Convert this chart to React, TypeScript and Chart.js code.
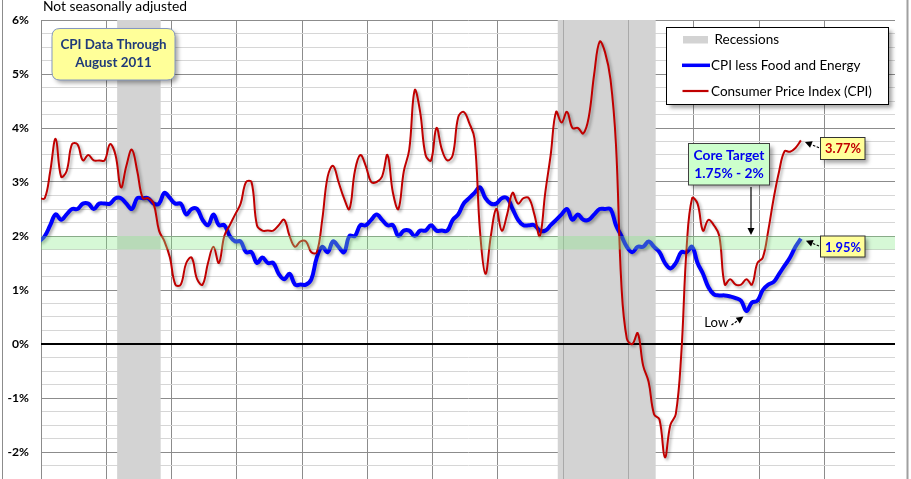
import React, { useEffect, useRef } from 'react';
import { Chart, registerables } from 'chart.js';

Chart.register(...registerables);

// ---------- DATA (monthly, year-over-year %, Dec 1999 .. Aug 2011) ----------
const firstMonth = '1999-12';
const coreCPI: number[] = [
  1.9,
  2.0, 2.2, 2.4, 2.3, 2.4, 2.5, 2.5, 2.6, 2.6, 2.5, 2.6, 2.6, // 2000
  2.6, 2.7, 2.7, 2.6, 2.5, 2.7, 2.7, 2.7, 2.6, 2.6, 2.8, 2.7, // 2001
  2.6, 2.6, 2.4, 2.5, 2.5, 2.3, 2.2, 2.4, 2.2, 2.2, 2.0, 1.9, // 2002
  1.9, 1.7, 1.7, 1.5, 1.6, 1.5, 1.5, 1.3, 1.2, 1.3, 1.1, 1.1, // 2003
  1.1, 1.2, 1.6, 1.8, 1.7, 1.9, 1.8, 1.7, 2.0, 2.0, 2.2, 2.2, // 2004
  2.3, 2.4, 2.3, 2.2, 2.2, 2.0, 2.1, 2.1, 2.0, 2.1, 2.1, 2.2, // 2005
  2.1, 2.1, 2.1, 2.3, 2.4, 2.6, 2.7, 2.8, 2.9, 2.7, 2.6, 2.6, // 2006
  2.7, 2.7, 2.5, 2.3, 2.2, 2.2, 2.2, 2.1, 2.1, 2.2, 2.3, 2.4, // 2007
  2.5, 2.3, 2.4, 2.3, 2.3, 2.4, 2.5, 2.5, 2.5, 2.2, 2.0, 1.8, // 2008
  1.7, 1.8, 1.8, 1.9, 1.8, 1.7, 1.5, 1.4, 1.5, 1.7, 1.7, 1.8, // 2009
  1.5, 1.3, 1.05, 0.92, 0.9, 0.9, 0.88, 0.85, 0.8, 0.61, 0.77, 0.8, // 2010
  1.0, 1.1, 1.15, 1.3, 1.45, 1.6, 1.8, 1.95, // 2011
];
const headlineCPI: number[] = [
  2.7,
  2.7, 3.2, 3.8, 3.1, 3.2, 3.7, 3.7, 3.4, 3.5, 3.4, 3.4, 3.4, // 2000
  3.7, 3.5, 2.9, 3.3, 3.6, 3.2, 2.7, 2.7, 2.6, 2.1, 1.9, 1.6, // 2001
  1.1, 1.1, 1.5, 1.6, 1.2, 1.1, 1.5, 1.8, 1.5, 2.0, 2.2, 2.4, // 2002
  2.6, 3.0, 3.0, 2.2, 2.1, 2.1, 2.1, 2.2, 2.3, 2.0, 1.8, 1.9, // 2003
  1.9, 1.7, 1.7, 2.3, 3.1, 3.3, 3.0, 2.7, 2.5, 3.2, 3.5, 3.3, // 2004
  3.0, 3.0, 3.1, 3.5, 2.8, 2.5, 3.2, 3.6, 4.7, 4.3, 3.5, 3.4, // 2005
  4.0, 3.6, 3.4, 3.5, 4.2, 4.3, 4.1, 3.8, 2.1, 1.3, 2.0, 2.5, // 2006
  2.1, 2.4, 2.8, 2.6, 2.7, 2.7, 2.4, 2.0, 2.8, 3.5, 4.3, 4.1, // 2007
  4.3, 4.0, 4.0, 3.9, 4.2, 5.0, 5.6, 5.4, 4.9, 3.7, 1.1, 0.1, // 2008
  0.0, 0.2, -0.4, -0.7, -1.3, -1.4, -2.1, -1.5, -1.3, -0.2, 1.8, 2.7, // 2009
  2.6, 2.1, 2.3, 2.2, 2.0, 1.1, 1.2, 1.1, 1.1, 1.2, 1.1, 1.5, // 2010
  1.6, 2.1, 2.7, 3.2, 3.57, 3.56, 3.63, 3.77, // 2011
];
const recessionStarts = ['2001-03', '2007-12'];
const recessionEnds = ['2001-11', '2009-06'];
const targetLow = 1.75;
const targetHigh = 2.0;
const yMin = -2.5;
const yMax = 6;
const yStep = 0.25;
const axisEnd = '2013-02';
const lastCPILabel = '3.77%';
const lastCoreLabel = '1.95%';
const seriesNames = ['CPI less Food and Energy', 'Consumer Price Index (CPI)'];

// ---------- helpers ----------
const BASE_YEAR = 2000;
const monthIndex = (s: string) => {
  const [y, m] = s.split('-').map(Number);
  return (y - BASE_YEAR) * 12 + (m - 1);
};
const PLOT_OFFSET = 0.7; // points are drawn late within their month, as in the source
const toPoints = (vals: number[]) =>
  vals.map((v, i) => ({ x: monthIndex(firstMonth) + i + PLOT_OFFSET, y: v }));

const FAMILY = 'Lato, "Open Sans", "DejaVu Sans", sans-serif';

function fitSize(text: string, weight: string, target: number) {
  const c = document.createElement('canvas').getContext('2d')!;
  c.font = `${weight} 20px ${FAMILY}`;
  const w = c.measureText(text).width;
  return (20 * target) / w;
}

function roundRect(ctx: CanvasRenderingContext2D, x: number, y: number, w: number, h: number, r: number) {
  ctx.beginPath();
  ctx.moveTo(x + r, y);
  ctx.lineTo(x + w - r, y);
  ctx.quadraticCurveTo(x + w, y, x + w, y + r);
  ctx.lineTo(x + w, y + h - r);
  ctx.quadraticCurveTo(x + w, y + h, x + w - r, y + h);
  ctx.lineTo(x + r, y + h);
  ctx.quadraticCurveTo(x, y + h, x, y + h - r);
  ctx.lineTo(x, y + r);
  ctx.quadraticCurveTo(x, y, x + r, y);
  ctx.closePath();
}

function box(ctx: CanvasRenderingContext2D, x: number, y: number, w: number, h: number, fill: string, stroke: string, r = 0) {
  ctx.save();
  ctx.shadowColor = 'rgba(0,0,0,0.35)';
  ctx.shadowBlur = 4;
  ctx.shadowOffsetX = 3;
  ctx.shadowOffsetY = 3;
  ctx.fillStyle = fill;
  if (r > 0) {
    roundRect(ctx, x, y, w, h, r);
    ctx.fill();
  } else {
    ctx.fillRect(x, y, w, h);
  }
  ctx.restore();
  ctx.save();
  ctx.strokeStyle = stroke;
  ctx.lineWidth = 1;
  if (r > 0) {
    roundRect(ctx, x, y, w, h, r);
    ctx.stroke();
  } else {
    ctx.strokeRect(x, y, w, h);
  }
  ctx.restore();
}

function arrow(ctx: CanvasRenderingContext2D, x1: number, y1: number, x2: number, y2: number, dashed: boolean) {
  const ang = Math.atan2(y2 - y1, x2 - x1);
  const head = 7;
  const hw = 3.5;
  const bx = x2 - head * Math.cos(ang);
  const by = y2 - head * Math.sin(ang);
  ctx.save();
  ctx.strokeStyle = '#000';
  ctx.fillStyle = '#000';
  ctx.lineWidth = 1.2;
  if (dashed) ctx.setLineDash([2.5, 1.5]);
  ctx.beginPath();
  ctx.moveTo(x1, y1);
  ctx.lineTo(bx, by);
  ctx.stroke();
  ctx.setLineDash([]);
  ctx.beginPath();
  ctx.moveTo(x2, y2);
  ctx.lineTo(bx + hw * Math.sin(ang), by - hw * Math.cos(ang));
  ctx.lineTo(bx - hw * Math.sin(ang), by + hw * Math.cos(ang));
  ctx.closePath();
  ctx.fill();
  ctx.restore();
}

export default function App() {
  const ref = useRef<HTMLCanvasElement>(null);

  useEffect(() => {
    const canvas = ref.current!;
    const sizes = {
      sub: fitSize('Not seasonally adjusted', 'normal', 144),
      legend: fitSize(seriesNames[1], 'normal', 161),
      dataBox: fitSize('CPI Data Through', 'bold', 106),
      core: fitSize('Core Target', 'bold', 71),
      val: fitSize(lastCPILabel, 'bold', 36),
      low: fitSize('Low', 'normal', 24),
      tick: fitSize('-2%', 'bold', 21.5),
    };
    const font = (w: string, s: number) => `${w} ${s.toFixed(2)}px ${FAMILY}`;

    const decor = {
      id: 'decor',
      beforeDatasetsDraw(chart: any) {
        const { ctx, chartArea: a, scales } = chart;
        const xs = scales.x;
        const ys = scales.y;
        ctx.save();
        // recession bands
        recessionStarts.forEach((s, i) => {
          const x1 = xs.getPixelForValue(monthIndex(s));
          const x2 = xs.getPixelForValue(monthIndex(recessionEnds[i]));
          ctx.fillStyle = '#d3d3d3';
          ctx.fillRect(x1, a.top, x2 - x1, a.bottom - a.top);
          // year gridlines remain faintly visible through the band
          ctx.strokeStyle = '#a9a9a9';
          ctx.lineWidth = 1;
          xs.ticks.forEach((t: any) => {
            if (t.value % 12 !== 0) return;
            const px = Math.round(xs.getPixelForValue(t.value)) + 0.5;
            if (px > x1 && px < x2) {
              ctx.beginPath();
              ctx.moveTo(px, a.top);
              ctx.lineTo(px, a.bottom);
              ctx.stroke();
            }
          });
        });
        // zero line
        const y0 = ys.getPixelForValue(0);
        ctx.strokeStyle = '#000';
        ctx.lineWidth = 2;
        ctx.beginPath();
        ctx.moveTo(a.left, y0);
        ctx.lineTo(a.right, y0);
        ctx.stroke();
        ctx.restore();
      },
      beforeDatasetDraw(chart: any) {
        const ctx = chart.ctx;
        ctx.save();
        ctx.shadowColor = 'rgba(0,0,0,0.32)';
        ctx.shadowBlur = 3;
        ctx.shadowOffsetX = 2;
        ctx.shadowOffsetY = 2;
      },
      afterDatasetDraw(chart: any) {
        chart.ctx.restore();
      },
      afterDatasetsDraw(chart: any) {
        const { ctx, chartArea: a, scales } = chart;
        const ys = scales.y;
        const yt = ys.getPixelForValue(targetHigh);
        const yb = ys.getPixelForValue(targetLow);
        ctx.save();
        ctx.fillStyle = 'rgba(130,235,130,0.33)';
        ctx.fillRect(a.left, yt, a.right - a.left, yb - yt);
        ctx.restore();
      },
      afterDraw(chart: any) {
        const { ctx, scales } = chart;
        const xs = scales.x;
        const ys = scales.y;
        ctx.save();

        // outer chart border
        ctx.strokeStyle = '#8c8c8c';
        ctx.lineWidth = 1;
        ctx.beginPath();
        ctx.moveTo(2.5, 0);
        ctx.lineTo(2.5, 479);
        ctx.stroke();
        ctx.strokeStyle = '#a0a0a0';
        ctx.lineWidth = 2;
        ctx.beginPath();
        ctx.moveTo(907.5, 0);
        ctx.lineTo(907.5, 479);
        ctx.stroke();

        // subtitle
        ctx.fillStyle = '#000';
        ctx.font = font('normal', sizes.sub);
        ctx.textAlign = 'left';
        ctx.textBaseline = 'alphabetic';
        ctx.fillText('Not seasonally adjusted', 43, 10.5);

        // "CPI Data Through" box
        box(ctx, 52, 28.5, 123, 51.5, '#ffff99', '#8497c0', 8);
        ctx.fillStyle = '#1f3a7a';
        ctx.font = font('bold', sizes.dataBox);
        ctx.textAlign = 'center';
        ctx.fillText('CPI Data Through', 113.5, 49);
        ctx.fillText('August 2011', 113.5, 66.7);

        // legend
        box(ctx, 666.5, 27.5, 222, 77, '#ffffff', '#000000');
        ctx.fillStyle = '#d3d3d3';
        ctx.fillRect(683, 36, 25, 7.5);
        ctx.strokeStyle = '#0000ff';
        ctx.lineWidth = 3.5;
        ctx.beginPath();
        ctx.moveTo(682, 65.3);
        ctx.lineTo(710, 65.3);
        ctx.stroke();
        ctx.strokeStyle = '#c00000';
        ctx.lineWidth = 2.2;
        ctx.beginPath();
        ctx.moveTo(682.5, 91);
        ctx.lineTo(708.5, 91);
        ctx.stroke();
        ctx.fillStyle = '#000';
        ctx.font = font('normal', sizes.legend);
        ctx.textAlign = 'left';
        ctx.fillText('Recessions', 714.5, 44.3);
        ctx.fillText(seriesNames[0], 711, 70);
        ctx.fillText(seriesNames[1], 711, 95.7);

        // Core target box + arrow
        box(ctx, 688.5, 143.5, 81, 41.5, '#ccffcc', '#404040');
        ctx.fillStyle = '#0000ee';
        ctx.font = font('bold', sizes.core);
        ctx.textAlign = 'center';
        ctx.fillText('Core Target', 729, 160);
        ctx.fillText('1.75% - 2%', 729, 178.3);
        arrow(ctx, 751, 187, 751, ys.getPixelForValue(targetHigh) - 1, false);

        // last value labels
        const lastX = xs.getPixelForValue(monthIndex(firstMonth) + headlineCPI.length - 1 + PLOT_OFFSET);
        const lastCPIy = ys.getPixelForValue(headlineCPI[headlineCPI.length - 1]);
        const lastCorey = ys.getPixelForValue(coreCPI[coreCPI.length - 1]);
        box(ctx, 820.5, 137.5, 44.5, 22, '#ffff99', '#333333');
        box(ctx, 820.5, 236, 44.5, 21, '#ffff99', '#333333');
        ctx.font = font('bold', sizes.val);
        ctx.fillStyle = '#c00000';
        ctx.fillText(lastCPILabel, 843, 153.3);
        ctx.fillStyle = '#0000ff';
        ctx.fillText(lastCoreLabel, 843, 252);
        arrow(ctx, 819, 147.7, lastX + 4, lastCPIy + 1.5, true);
        arrow(ctx, 819, 246, lastX + 5, lastCorey + 2, true);

        // Low label
        const lowIdx = coreCPI.indexOf(Math.min(...coreCPI));
        const lowX = xs.getPixelForValue(monthIndex(firstMonth) + lowIdx + PLOT_OFFSET);
        const lowY = ys.getPixelForValue(coreCPI[lowIdx]);
        ctx.font = font('normal', sizes.low);
        ctx.fillStyle = '#ffffff';
        ctx.fillRect(702, 316, 28, 13);
        ctx.fillStyle = '#000';
        ctx.textAlign = 'left';
        ctx.fillText('Low', 704.3, 327.3);
        arrow(ctx, 731.5, 325, lowX - 3, lowY + 5.5, true);

        ctx.restore();
      },
    };

    const chart = new Chart(canvas, {
      type: 'line',
      data: {
        datasets: [
          {
            label: seriesNames[1],
            data: toPoints(headlineCPI),
            borderColor: '#c00000',
            borderWidth: 2,
            pointRadius: 0,
            tension: 0.4,
            fill: false,
          },
          {
            label: seriesNames[0],
            data: toPoints(coreCPI),
            borderColor: '#0000ff',
            borderWidth: 4,
            pointRadius: 0,
            tension: 0.4,
            fill: false,
          },
        ],
      },
      options: {
        responsive: false,
        animation: false,
        devicePixelRatio: 1,
        events: [],
        layout: { padding: { left: 0, right: 16, top: 20, bottom: 0 } },
        plugins: {
          legend: { display: false },
          tooltip: { enabled: false },
          title: { display: false },
        },
        scales: {
          x: {
            type: 'linear',
            min: 0,
            max: monthIndex(axisEnd),
            ticks: { display: false, stepSize: 12 },
            grid: {
              color: (c: any) => (c.tick && c.tick.value % 12 === 0 ? '#8c8c8c' : 'rgba(0,0,0,0)'),
              lineWidth: 1,
              drawTicks: false,
            },
            border: { display: false },
            afterFit: (s: any) => {
              s.height = 0;
              s.paddingTop = 0;
              s.paddingBottom = 0;
            },
          },
          y: {
            type: 'linear',
            min: yMin,
            max: yMax,
            ticks: {
              stepSize: yStep,
              autoSkip: false,
              maxTicksLimit: 200,
              padding: 12,
              color: '#000',
              font: { family: FAMILY, weight: 'bold', size: sizes.tick },
              callback: (v: any) => (Number.isInteger(v) ? `${v}%` : ''),
            },
            grid: {
              color: (c: any) => (c.tick && Number.isInteger(c.tick.value) ? '#8c8c8c' : '#d6d6d6'),
              lineWidth: 1,
              drawTicks: false,
            },
            border: { display: true, color: '#8c8c8c' },
            afterFit: (s: any) => {
              s.width = 41;
              s.paddingTop = 0;
              s.paddingBottom = 0;
            },
          },
        },
      },
      plugins: [decor],
    } as any);

    return () => chart.destroy();
  }, []);

  return (
    <div
      style={{
        position: 'fixed',
        left: 0,
        top: 0,
        width: 911,
        height: 479,
        overflow: 'hidden',
        background: '#ffffff',
      }}
    >
      <canvas ref={ref} width={911} height={479} style={{ display: 'block' }} />
    </div>
  );
}
